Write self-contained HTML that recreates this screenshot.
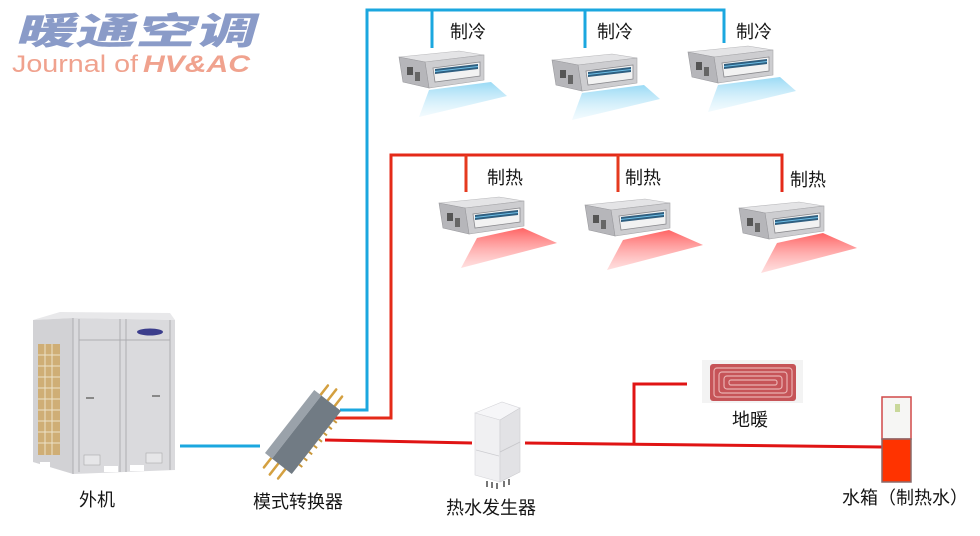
<!DOCTYPE html>
<html><head><meta charset="utf-8"><style>
html,body{margin:0;padding:0;background:#fff;}
svg{display:block;}
.t{font-family:"Liberation Sans","Noto Sans CJK SC",sans-serif;font-size:18px;fill:#161616;}
</style></head><body>
<svg width="980" height="536" viewBox="0 0 980 536" xmlns="http://www.w3.org/2000/svg">
<defs>
  <linearGradient id="cg" x1="0" y1="0" x2="0" y2="1">
    <stop offset="0" stop-color="#9adaf5"/><stop offset="1" stop-color="#e0f4fc" stop-opacity="0.4"/>
  </linearGradient>
  <linearGradient id="hg" x1="0" y1="0" x2="0" y2="1">
    <stop offset="0" stop-color="#ff6464"/><stop offset="1" stop-color="#ffc0c0" stop-opacity="0.5"/>
  </linearGradient>
  <g id="unit">
    <polygon points="0,7 60,1 85,5 26,12" fill="#e4e4e6" stroke="#b8b8bb" stroke-width="0.6"/>
    <polygon points="26,12 85,5 85,30 30,38" fill="#cdcdd0" stroke="#a8a8ab" stroke-width="0.6"/>
    <polygon points="0,7 26,12 30,38 4,32" fill="#b6b6ba" stroke="#9a9a9e" stroke-width="0.6"/>
    <rect x="8" y="17" width="6" height="8" fill="#555"/>
    <rect x="16" y="22" width="5" height="9" fill="#666"/>
    <polygon points="34,18 81,12 81,26 36,32" fill="#f2f2f2" stroke="#8a8a8e" stroke-width="0.8"/>
    <polygon points="36,19 79,14 79,19 36,24" fill="#2f5f80"/>
    <polygon points="36,21 79,16 79,17 36,22" fill="#6fc0e8"/>
  </g>
</defs>

<!-- Logo -->
<text x="0" y="0" transform="translate(15,44) scale(1.62,1) skewX(-10)" font-family="'Noto Sans CJK SC',sans-serif" font-size="37" font-weight="900" fill="#8a9bc8">暖通空调</text>
<text x="12" y="72" font-family="'Liberation Sans',sans-serif" font-size="24" fill="#f0a28e" textLength="126" lengthAdjust="spacingAndGlyphs">Journal of</text>
<text x="143" y="72" font-family="'Liberation Sans',sans-serif" font-size="24" font-weight="bold" font-style="italic" fill="#f0a28e" textLength="107" lengthAdjust="spacingAndGlyphs">HV&amp;AC</text>

<!-- Blue pipes -->
<g fill="none" stroke="#1ba7df" stroke-width="3">
  <path d="M340,410 H367 V10 H724 V43"/>
  <path d="M432,10 V48"/>
  <path d="M585,10 V48"/>
  <path d="M180,446 H260"/>
</g>
<!-- Red pipes top -->
<g fill="none" stroke="#e53a1f" stroke-width="3">
  <path d="M325,418 H391 V155 H782 V192" stroke="#e42a18"/>
  <path d="M466,155 V192"/>
  <path d="M618,155 V192"/>
</g>
<!-- Red pipes bottom -->
<g fill="none" stroke="#e01414" stroke-width="3">
  <path d="M325,440 L472,443"/>
  <path d="M525,443 L882,447"/>
  <path d="M634,445 V384 H687"/>
</g>

<!-- Cooling units -->
<g transform="translate(399,50)">
  <polygon points="30,40 92,32 108,46 20,67" fill="url(#cg)"/>
  <use href="#unit"/>
</g>
<g transform="translate(552,53)">
  <polygon points="30,40 92,32 108,46 20,67" fill="url(#cg)"/>
  <use href="#unit"/>
</g>
<g transform="translate(688,45)">
  <polygon points="30,40 92,32 108,46 20,67" fill="url(#cg)"/>
  <use href="#unit"/>
</g>
<text class="t" x="468" y="32" text-anchor="middle" dominant-baseline="central">制冷</text>
<text class="t" x="615" y="32" text-anchor="middle" dominant-baseline="central">制冷</text>
<text class="t" x="754" y="32" text-anchor="middle" dominant-baseline="central">制冷</text>

<!-- Heating units -->
<g transform="translate(439,196)">
  <polygon points="38,42 84,32 118,47 22,72" fill="url(#hg)"/>
  <use href="#unit"/>
</g>
<g transform="translate(585,198)">
  <polygon points="38,42 84,32 118,47 22,72" fill="url(#hg)"/>
  <use href="#unit"/>
</g>
<g transform="translate(739,201)">
  <polygon points="38,42 84,32 118,47 22,72" fill="url(#hg)"/>
  <use href="#unit"/>
</g>
<text class="t" x="505" y="178" text-anchor="middle" dominant-baseline="central">制热</text>
<text class="t" x="643" y="178" text-anchor="middle" dominant-baseline="central">制热</text>
<text class="t" x="808" y="180" text-anchor="middle" dominant-baseline="central">制热</text>

<!-- Outdoor unit -->
<g>
  <polygon points="33,320 60,312 170,313 175,320 73,318" fill="#e8e8ea"/>
  <polygon points="33,320 73,318 73,474 33,462" fill="#d2d2d5"/>
  <polygon points="73,318 175,320 175,470 73,474" fill="#dadadd"/>
  <rect x="38" y="344" width="22" height="111" fill="#cfae76"/>
  <g stroke="#ece2c8" stroke-width="1">
    <line x1="45" y1="344" x2="45" y2="455"/><line x1="52" y1="344" x2="52" y2="455"/>
    <line x1="38" y1="355" x2="60" y2="355"/><line x1="38" y1="366" x2="60" y2="366"/>
    <line x1="38" y1="377" x2="60" y2="377"/><line x1="38" y1="388" x2="60" y2="388"/>
    <line x1="38" y1="399" x2="60" y2="399"/><line x1="38" y1="410" x2="60" y2="410"/>
    <line x1="38" y1="421" x2="60" y2="421"/><line x1="38" y1="432" x2="60" y2="432"/>
    <line x1="38" y1="443" x2="60" y2="443"/>
  </g>
  <g stroke="#adadb1" stroke-width="1" fill="none">
    <line x1="73" y1="318" x2="73" y2="474"/>
    <line x1="79" y1="319" x2="79" y2="472"/>
    <line x1="120" y1="319" x2="120" y2="472"/>
    <line x1="126" y1="319" x2="126" y2="472"/>
    <line x1="170" y1="320" x2="170" y2="470"/>
    <line x1="79" y1="340" x2="170" y2="340"/>
  </g>
  <rect x="86" y="397" width="8" height="2" fill="#888"/>
  <rect x="152" y="395" width="8" height="2" fill="#888"/>
  <ellipse cx="150" cy="332" rx="13" ry="3.5" fill="#3b3d8c"/>
  <rect x="84" y="455" width="16" height="10" fill="#e6e6e8" stroke="#aaa" stroke-width="0.6"/>
  <rect x="146" y="453" width="16" height="10" fill="#e6e6e8" stroke="#aaa" stroke-width="0.6"/>
  <rect x="40" y="462" width="10" height="6" fill="#fff"/>
  <rect x="104" y="466" width="14" height="6" fill="#fff"/>
  <rect x="130" y="465" width="14" height="6" fill="#fff"/>
</g>
<text class="t" x="97" y="500" text-anchor="middle" dominant-baseline="central">外机</text>

<!-- Mode converter -->
<g transform="translate(303,432) rotate(-52)">
  <g stroke="#d4a040" stroke-width="2.5" stroke-linecap="round">
    <line x1="40" y1="-9" x2="52" y2="-9"/><line x1="40" y1="0" x2="54" y2="0"/><line x1="40" y1="9" x2="52" y2="9"/>
    <line x1="-40" y1="-9" x2="-52" y2="-9"/><line x1="-40" y1="0" x2="-54" y2="0"/><line x1="-40" y1="9" x2="-52" y2="9"/>
  </g>
  <rect x="-40" y="-17" width="80" height="9" fill="#9aa2aa"/>
  <rect x="-40" y="-8" width="80" height="25" fill="#717b84"/>
  <g stroke="#c9973a" stroke-width="2">
    <line x1="-28" y1="17" x2="-28" y2="21"/><line x1="-20" y1="17" x2="-20" y2="21"/>
    <line x1="-12" y1="17" x2="-12" y2="21"/><line x1="-4" y1="17" x2="-4" y2="21"/>
    <line x1="4" y1="17" x2="4" y2="21"/><line x1="12" y1="17" x2="12" y2="21"/>
    <line x1="20" y1="17" x2="20" y2="21"/><line x1="28" y1="17" x2="28" y2="21"/>
  </g>
</g>
<text class="t" x="298" y="502" text-anchor="middle" dominant-baseline="central">模式转换器</text>

<!-- Hot water generator -->
<g>
  <polygon points="475,413 502,402 520,408 500,420" fill="#f6f6f8" stroke="#d6d6da" stroke-width="0.6"/>
  <polygon points="475,413 500,420 500,482 475,475" fill="#f0f0f2" stroke="#d6d6da" stroke-width="0.6"/>
  <polygon points="500,420 520,408 520,472 500,482" fill="#e2e2e5" stroke="#cdcdd1" stroke-width="0.6"/>
  <line x1="476" y1="450" x2="499" y2="456" stroke="#cdcdd1" stroke-width="0.8"/>
  <line x1="500" y1="452" x2="520" y2="442" stroke="#c6c6ca" stroke-width="0.8"/>
  <g fill="#777"><rect x="486" y="481" width="2" height="6"/><rect x="491" y="482" width="2" height="6"/><rect x="496" y="483" width="2" height="6"/><rect x="503" y="481" width="2" height="6"/><rect x="508" y="479" width="2" height="6"/></g>
</g>
<text class="t" x="491" y="508" text-anchor="middle" dominant-baseline="central">热水发生器</text>

<!-- Floor heating -->
<rect x="702" y="360" width="101" height="43" fill="#f3f3f3"/>
<rect x="710" y="364" width="86" height="37" rx="3" fill="#c65458"/>
<g fill="none" stroke="#eab0b0" stroke-width="1.2">
  <rect x="714" y="368" width="78" height="29" rx="3"/>
  <rect x="719" y="372" width="68" height="21" rx="3"/>
  <rect x="724" y="376" width="58" height="13" rx="3"/>
  <rect x="729" y="380" width="48" height="5" rx="2"/>
</g>
<text class="t" x="750" y="420" text-anchor="middle" dominant-baseline="central">地暖</text>

<!-- Water tank -->
<rect x="882" y="397" width="29" height="42" fill="#f6f6f4" stroke="#d04848" stroke-width="1.5"/>
<rect x="895" y="404" width="5" height="8" fill="#c9d89a"/>
<rect x="882" y="439" width="29" height="43" fill="#ff3300" stroke="#8a6a6a" stroke-width="1.5"/>
<text class="t" x="905" y="498" text-anchor="middle" dominant-baseline="central">水箱（制热水）</text>
</svg>
</body></html>
